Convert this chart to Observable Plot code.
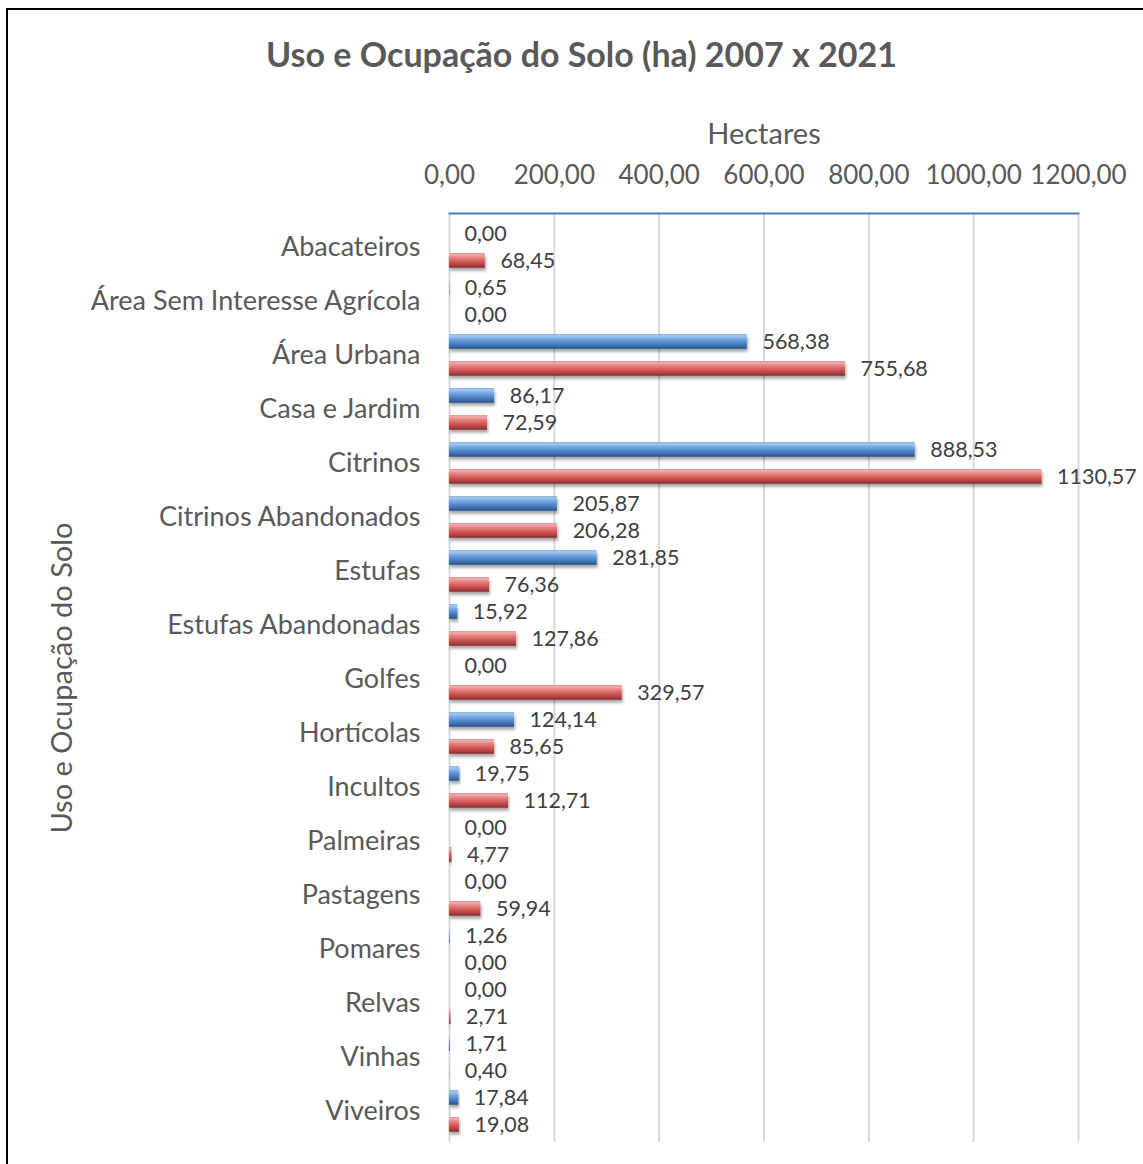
<!DOCTYPE html>
<html>
<head>
<meta charset="utf-8">
<script src="https://cdn.jsdelivr.net/npm/d3@7"></script>
<script src="https://cdn.jsdelivr.net/npm/@observablehq/plot@0.6"></script>
<style>
  html, body { margin: 0; padding: 0; background: #fff; }
  body { position: relative; width: 1143px; height: 1164px; overflow: hidden; font-family: Lato, sans-serif; }
  #border { position: absolute; left: 6px; top: 8px; width: 1200px; height: 1300px; border: 2px solid #000; pointer-events: none; }
  #title { height: 95px; box-sizing: border-box; padding-top: 37px; padding-left: 20px; width: 1143px; text-align: center;
           font-family: Lato, sans-serif; font-weight: bold; font-size: 34px; line-height: 1; color: #595959; }
  #chart svg { display: block; }
</style>
</head>
<body>
<div id="border"></div>
<div id="title">Uso e Ocupação do Solo (ha) 2007 x 2021</div>
<div id="chart"></div>
<script>
const categories = [
  "Abacateiros", "Área Sem Interesse Agrícola", "Área Urbana", "Casa e Jardim", "Citrinos",
  "Citrinos Abandonados", "Estufas", "Estufas Abandonadas", "Golfes", "Hortícolas",
  "Incultos", "Palmeiras", "Pastagens", "Pomares", "Relvas", "Vinhas", "Viveiros"
];
const values2007 = [0.00, 0.65, 568.38, 86.17, 888.53, 205.87, 281.85, 15.92, 0.00, 124.14, 19.75, 0.00, 0.00, 1.26, 0.00, 1.71, 17.84];
const values2021 = [68.45, 0.00, 755.68, 72.59, 1130.57, 206.28, 76.36, 127.86, 329.57, 85.65, 112.71, 4.77, 59.94, 0.00, 2.71, 0.40, 19.08];
const xTicks = [0, 200, 400, 600, 800, 1000, 1200];
const xLabel = "Hectares";
const yLabel = "Uso e Ocupação do Solo";

const fmt = v => v.toFixed(2).replace(".", ",");
const d2007 = categories.map((c, i) => ({cat: c, ano: "2007", v: values2007[i]}));
const d2021 = categories.map((c, i) => ({cat: c, ano: "2021", v: values2021[i]}));

const chart = Plot.plot({
  width: 1143,
  height: 1069,
  marginTop: 118,
  marginLeft: 449,
  marginRight: 65,
  marginBottom: 22,
  style: {fontFamily: "Lato, sans-serif", color: "#595959", background: "transparent"},
  x: {domain: [0, 1200]},
  y: {domain: categories, padding: 0, range: [120, 1047]},
  marks: [
    Plot.gridX(xTicks, {stroke: "#d9d9d9", strokeOpacity: 1, strokeWidth: 2}),
    Plot.axisX({anchor: "top", ticks: xTicks, tickFormat: fmt, tickSize: 0, tickPadding: 30, fontSize: 26, label: null, color: "#595959"}),
    Plot.axisY({anchor: "left", tickSize: 0, tickPadding: 29, fontSize: 27, label: null, color: "#595959"}),
    Plot.frame({anchor: "top", stroke: "#4a7ec4", strokeWidth: 2}),
    Plot.barX(d2007, {x: "v", y: "cat", fill: "url(#gradBlue)", insetTop: 6.3, insetBottom: 33.3, filter: d => d.v > 0}),
    Plot.barX(d2021, {x: "v", y: "cat", fill: "url(#gradRed)", insetTop: 33.3, insetBottom: 6.3, filter: d => d.v > 0}),
    Plot.text(d2007, {x: "v", y: "cat", text: d => fmt(d.v), dx: 15, dy: -13.5, textAnchor: "start", fill: "#404040", fontSize: 21.5}),
    Plot.text(d2021, {x: "v", y: "cat", text: d => fmt(d.v), dx: 15, dy: 13.5, textAnchor: "start", fill: "#404040", fontSize: 21.5}),
    Plot.text([xLabel], {frameAnchor: "top", lineAnchor: "bottom", dy: -70, fontSize: 29, fill: "#595959"}),
    Plot.text([yLabel], {frameAnchor: "left", textAnchor: "middle", rotate: -90, dx: -387, fontSize: 29, fill: "#595959"})
  ]
});

const svg = d3.select(chart);
const defs = svg.insert("defs", ":first-child");
function grad(id, stops) {
  const g = defs.append("linearGradient").attr("id", id).attr("x1", 0).attr("y1", 0).attr("x2", 0).attr("y2", 1);
  stops.forEach(([o, c]) => g.append("stop").attr("offset", o).attr("stop-color", c));
}
grad("gradBlue", [[0, "#5f93d3"], [0.1, "#a9cbf2"], [0.28, "#7eaee6"], [0.6, "#4f86c8"], [0.85, "#3a6aa8"], [1, "#23457a"]]);
grad("gradRed", [[0, "#d46a6a"], [0.1, "#f4b0b0"], [0.28, "#e98585"], [0.6, "#d05555"], [0.85, "#b03c3c"], [1, "#7a2424"]]);
const f = defs.append("filter").attr("id", "shadow").attr("x", "-5%").attr("y", "-30%").attr("width", "115%").attr("height", "200%");
f.append("feDropShadow").attr("dx", 1).attr("dy", 3).attr("stdDeviation", 1.5).attr("flood-color", "#000").attr("flood-opacity", 0.35);
svg.selectAll("g[aria-label='bar'] rect").attr("filter", "url(#shadow)");

document.getElementById("chart").appendChild(chart);
</script>
</body>
</html>
